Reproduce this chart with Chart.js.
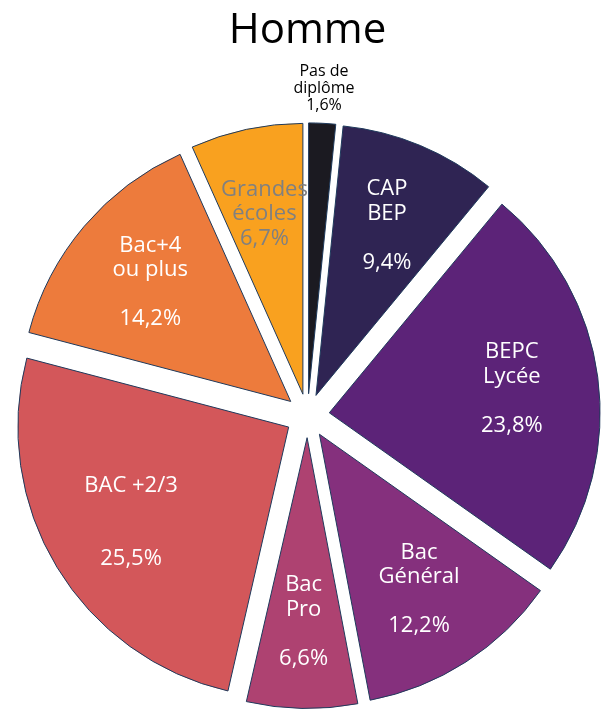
<!DOCTYPE html>
<html>
<head>
<meta charset="utf-8">
<script src="https://cdn.jsdelivr.net/npm/chart.js@4/dist/chart.umd.min.js"></script>
<style>
  body { margin: 0; background: #fff; }
  #wrap { width: 603px; height: 714px; position: relative; }
</style>
</head>
<body>
<div id="wrap"><canvas id="pie"></canvas></div>
<script>
// data (share of men by diploma, %)
const categories = ['Pas de diplôme', 'CAP BEP', 'BEPC Lycée', 'Bac Général', 'Bac Pro', 'BAC +2/3', 'Bac+4 ou plus', 'Grandes écoles'];
const labelLines = [
  ['Pas de', 'diplôme'],
  ['CAP', 'BEP', ''],
  ['BEPC', 'Lycée', ''],
  ['Bac', 'Général', ''],
  ['Bac', 'Pro', ''],
  ['BAC +2/3', '', ''],
  ['Bac+4', 'ou plus', ''],
  ['Grandes', 'écoles'],
];
const values = [1.6, 9.4, 23.8, 12.2, 6.6, 25.5, 14.2, 6.7];

const sliceColors = ['#1b1a21', '#2f2453', '#5c2378', '#85307d', '#ae4271', '#d3575a', '#ed7b3c', '#f9a11f'];
const textColors = ['#000000', '#ffffff', '#ffffff', '#ffffff', '#ffffff', '#ffffff', '#ffffff', '#808080'];
const FONT = '"Open Sans", sans-serif';
const EXPLODE = 22; // every slice pulled out by the same distance, like the excel chart

const fmtPct = (v) => v.toFixed(1).replace('.', ',') + '%';

// chart.js's own "offset" divides by 4 and grows small slices, so shift the whole arc instead
class ExplodedArc extends Chart.ArcElement {
  draw(ctx) {
    const mid = (this.startAngle + this.endAngle) / 2;
    ctx.save();
    ctx.translate(Math.cos(mid) * EXPLODE, Math.sin(mid) * EXPLODE);
    super.draw(ctx);
    ctx.restore();
  }
}
ExplodedArc.id = 'explodedArc';

class ExplodedPie extends Chart.PieController {}
ExplodedPie.id = 'explodedPie';
ExplodedPie.defaults = { dataElementType: 'explodedArc' };

Chart.register(ExplodedArc, ExplodedPie);

// draws the multi line labels inside (or above, for tiny slices) each slice
const sliceLabels = {
  id: 'sliceLabels',
  afterDatasetsDraw(chart) {
    const { ctx } = chart;
    const meta = chart.getDatasetMeta(0);
    ctx.save();
    ctx.textAlign = 'center';
    ctx.textBaseline = 'middle';
    meta.data.forEach((arc, i) => {
      const { x, y, startAngle, endAngle, outerRadius } = arc.getProps(['x', 'y', 'startAngle', 'endAngle', 'outerRadius'], true);
      const mid = (startAngle + endAngle) / 2;
      const small = values[i] < 3;
      const dist = EXPLODE + outerRadius * (small ? 1.13 : 0.68);
      const px = x + Math.cos(mid) * dist;
      const py = y + Math.sin(mid) * dist;
      const lines = labelLines[i].concat(fmtPct(values[i]));
      const size = small ? 16 : 22;
      const lh = small ? 17 : 24.5;
      ctx.font = size + 'px ' + FONT;
      ctx.fillStyle = textColors[i];
      const top = py - (lines.length - 1) * lh / 2;
      lines.forEach((t, k) => {
        if (t) ctx.fillText(t, px, top + k * lh);
      });
    });
    ctx.restore();
  },
};

const ctx = document.getElementById('pie').getContext('2d');
// eslint-disable-next-line no-unused-vars
const pie = new Chart(ctx, {
  type: 'explodedPie',
  data: {
    labels: categories,
    datasets: [
      {
        data: values,
        backgroundColor: sliceColors,
        borderColor: '#1f3a5c',
        borderWidth: 1,
      },
    ],
  },
  options: {
    responsive: true,
    maintainAspectRatio: false,
    animation: false,
    events: [],
    layout: { padding: { left: 36, right: 24, top: 0, bottom: 27 } },
    plugins: {
      legend: { display: false },
      tooltip: { enabled: false },
      title: {
        display: true,
        text: 'Homme',
        color: '#000',
        font: { family: FONT, size: 42, weight: 'normal' },
        padding: { top: 6, bottom: 88 },
      },
    },
  },
  plugins: [sliceLabels],
});
</script>
</body>
</html>
